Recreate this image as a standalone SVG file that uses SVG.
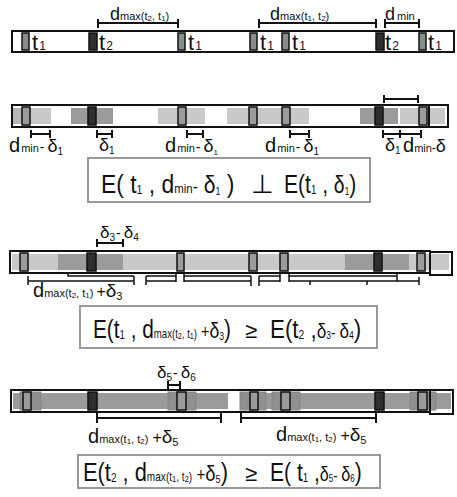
<svg xmlns="http://www.w3.org/2000/svg" width="457" height="497" viewBox="0 0 457 497">
<style>
text{font-family:"Liberation Sans",Arial,sans-serif;fill:#111}
.bar{fill:none;stroke:#111;stroke-width:2}
.mk{stroke:#111;stroke-width:1.5}
.t1{fill:#8c8c8c}
.t2{fill:#2e2e2e}
.lt{fill:#c9c9c9}
.md{fill:#9b9b9b}
.br{fill:none;stroke:#111;stroke-width:2}
.ln{fill:none;stroke:#111;stroke-width:1.5}
.fb{fill:#fff;stroke:#999;stroke-width:2}
.big{font-size:26px}
.s{font-size:12px}
</style>

<!-- Row 1 -->
<g id="row1">
<rect class="bar" x="12" y="31" width="442" height="21"/>
<rect class="mk t1" x="22" y="33" width="7" height="17"/>
<rect class="mk t2" x="89" y="33" width="8" height="17"/>
<rect class="mk t1" x="178" y="33" width="7" height="17"/>
<rect class="mk t1" x="250" y="33" width="7" height="17"/>
<rect class="mk t1" x="282" y="33" width="7" height="17"/>
<rect class="mk t2" x="376" y="33" width="8" height="17"/>
<rect class="mk t1" x="419" y="33" width="7" height="17"/>
<text x="32" y="50" font-size="22">t<tspan class="s" dx="1">1</tspan></text>
<text x="99" y="50" font-size="22">t<tspan class="s" dx="1">2</tspan></text>
<text x="188" y="50" font-size="22">t<tspan class="s" dx="1">1</tspan></text>
<text x="260" y="50" font-size="22">t<tspan class="s" dx="1">1</tspan></text>
<text x="292" y="50" font-size="22">t<tspan class="s" dx="1">1</tspan></text>
<text x="385" y="50" font-size="22">t<tspan class="s" dx="1">2</tspan></text>
<text x="428" y="50" font-size="22">t<tspan class="s" dx="1">1</tspan></text>
<path class="br" d="M98 23H178M98 19V28M178 19V28"/>
<path class="br" d="M259 23H376M259 19V28M376 19V28"/>
<path class="br" d="M385 23H419M385 19V28M419 19V28"/>
<text x="110" y="20" font-size="18">d<tspan font-size="11">max(t</tspan><tspan font-size="8" dy="1">2</tspan><tspan font-size="11" dy="-1">, t</tspan><tspan font-size="8" dy="1">1</tspan><tspan font-size="11" dy="-1">)</tspan></text>
<text x="270" y="20" font-size="18">d<tspan font-size="11">max(t</tspan><tspan font-size="8" dy="1">1</tspan><tspan font-size="11" dy="-1">, t</tspan><tspan font-size="8" dy="1">2</tspan><tspan font-size="11" dy="-1">)</tspan></text>
<text x="385" y="20" font-size="18">d<tspan font-size="11" dx="2">min</tspan></text>
</g>

<!-- Row 2 -->
<g id="row2">
<rect class="lt" x="13" y="108" width="38" height="16"/>
<rect fill="#b5b5b5" x="13" y="108" width="18" height="16"/>
<rect class="md" x="71" y="108" width="42" height="16"/>
<rect class="lt" x="158" y="108" width="47" height="16"/>
<rect class="lt" x="227" y="108" width="82" height="16"/>
<rect class="md" x="360" y="108" width="38" height="16"/>
<rect class="lt" x="400" y="108" width="45" height="16"/>
<rect class="mk md" x="22" y="107" width="8" height="18"/>
<rect class="mk t2" x="88" y="107" width="8" height="18"/>
<rect class="mk md" x="178" y="107" width="8" height="18"/>
<rect class="mk md" x="249" y="107" width="8" height="18"/>
<rect class="mk md" x="282" y="107" width="8" height="18"/>
<rect class="mk t2" x="375" y="107" width="8" height="18"/>
<rect class="mk md" x="419" y="107" width="8" height="18"/>
<rect class="bar" x="12" y="105" width="417" height="22"/>
<rect class="bar" x="429" y="105" width="19" height="22"/>
<path class="br" d="M384 99H418M384 95V103M418 95V103"/>
<path class="br" d="M31 134H50M31 130V138M50 130V138"/>
<path class="br" d="M97 134H112M97 130V138M112 130V138"/>
<path class="br" d="M187 134H203M187 130V138M203 130V138"/>
<path class="br" d="M290 134H309M290 130V138M309 130V138"/>
<path class="br" d="M383 134H400M383 130V138M400 130V138M400 134H421M421 130V138"/>
<text x="9" y="152" font-size="20">d<tspan font-size="11" dx="1">min</tspan><tspan font-size="14" dx="1">-</tspan><tspan font-size="18" dx="3">δ</tspan><tspan font-size="10" dy="3">1</tspan></text>
<text x="99" y="151" font-size="18">δ<tspan font-size="10" dy="3">1</tspan></text>
<text x="165" y="152" font-size="20">d<tspan font-size="11" dx="1">min</tspan><tspan font-size="14" dx="1">-</tspan><tspan font-size="18" dx="3">δ</tspan><tspan font-size="8" dy="3">1</tspan></text>
<text x="265" y="152" font-size="20">d<tspan font-size="11" dx="1">min</tspan><tspan font-size="14" dx="1">-</tspan><tspan font-size="18" dx="3">δ</tspan><tspan font-size="10" dy="3">1</tspan></text>
<text x="385" y="151" font-size="18">δ<tspan font-size="10" dy="3">1</tspan></text>
<text x="403" y="152" font-size="20">d<tspan font-size="11">min</tspan><tspan font-size="12">-</tspan><tspan font-size="18">δ</tspan></text>
</g>
<g id="formula1">
<rect class="fb" x="88" y="158" width="282" height="44"/>
<text transform="translate(101 193) scale(0.88 1)" class="big">E( t<tspan class="s" dy="1">1</tspan><tspan dy="-1"> , d</tspan><tspan font-size="13">min</tspan><tspan font-size="18">-</tspan><tspan font-size="24"> δ</tspan><tspan font-size="10" dy="2">1</tspan><tspan dy="-2"> )</tspan></text>
<text x="251" y="193" class="big">⊥</text>
<text transform="translate(284 193) scale(0.81 1)" class="big">E(t<tspan class="s" dy="1">1</tspan><tspan dy="-1"> , </tspan><tspan font-size="24">δ</tspan><tspan font-size="10" dy="2">1</tspan><tspan dy="-2">)</tspan></text>
</g>

<!-- Row 3 -->
<g id="row3">
<rect class="lt" x="12" y="254" width="437" height="16"/>
<rect class="md" x="58" y="254" width="65" height="16"/>
<rect class="md" x="345" y="254" width="64" height="16"/>
<rect class="mk md" x="20" y="253" width="8" height="18"/>
<rect class="mk t2" x="87" y="253" width="9" height="18"/>
<rect class="mk md" x="177" y="253" width="7" height="18"/>
<rect class="mk md" x="249" y="253" width="8" height="18"/>
<rect class="mk md" x="280" y="253" width="8" height="18"/>
<rect class="mk t2" x="374" y="253" width="8" height="18"/>
<rect class="mk md" x="417" y="253" width="8" height="18"/>
<rect class="bar" x="10" y="251" width="420" height="22"/>
<rect class="bar" x="430" y="252" width="22" height="23"/>
<path class="br" d="M97 243H123M97 239V247M123 239V247"/>
<path class="ln" d="M68 273V276H134M28 281H134M28 276V285M134 276V285"/>
<path class="ln" d="M146 276V285M146 276H176M146 281H176M176 273V282M184 273V282"/>
<path class="ln" d="M184 276H251M184 281H251M251 276V286M259 276V286M259 276H280M259 281H280M280 273V282M289 273V282"/>
<path class="ln" d="M289 276H397M289 281H419M310 281V285M367 281V285M397 273V281M419 277V285"/>
<text x="100" y="238" font-size="17">δ<tspan font-size="10" dy="3">3</tspan><tspan font-size="14" dx="1" dy="-3">-</tspan><tspan dx="3">δ</tspan><tspan font-size="10" dy="3">4</tspan></text>
<text x="33" y="297" font-size="20">d<tspan font-size="11">max(t</tspan><tspan font-size="8" dy="1">2</tspan><tspan font-size="11" dy="-1">, t</tspan><tspan font-size="8" dy="1">1</tspan><tspan font-size="11" dy="-1">)</tspan><tspan font-size="16" dx="3">+</tspan><tspan font-size="19">δ</tspan><tspan font-size="11" dy="3">3</tspan></text>
</g>
<g id="formula2">
<rect class="fb" x="80" y="306" width="297" height="42"/>
<text transform="translate(93 338) scale(0.8 1)" class="big">E(t<tspan class="s" dy="1">1</tspan><tspan dy="-1"> , d</tspan><tspan font-size="12">max(t</tspan><tspan font-size="9" dy="1">2</tspan><tspan font-size="12" dy="-1">, t</tspan><tspan font-size="9" dy="1">1</tspan><tspan font-size="12" dy="-1">)</tspan><tspan font-size="18"> +</tspan><tspan font-size="22">δ</tspan><tspan font-size="11" dy="2">3</tspan><tspan dy="-2">)</tspan></text>
<text x="245" y="338" font-size="22">≥</text>
<text transform="translate(270 338) scale(0.86 1)" class="big">E(t<tspan class="s" dy="1">2</tspan><tspan dy="-1"> ,</tspan><tspan font-size="20">δ</tspan><tspan font-size="10" dy="1">3</tspan><tspan font-size="16" dy="-1">- </tspan><tspan font-size="20">δ</tspan><tspan font-size="10" dy="1">4</tspan><tspan dy="-1">)</tspan></text>
</g>

<!-- Row 4 -->
<g id="row4">
<rect class="md" x="13" y="393" width="215" height="16"/>
<rect class="md" x="240" y="393" width="211" height="16"/>
<rect fill="#8f8f8f" stroke="#888" stroke-width="1" x="20" y="392" width="21" height="18"/>
<rect fill="#8f8f8f" stroke="#888" stroke-width="1" x="168" y="392" width="28" height="18"/>
<rect fill="#8f8f8f" stroke="#888" stroke-width="1" x="240" y="392" width="26" height="18"/>
<rect fill="#8f8f8f" stroke="#888" stroke-width="1" x="272" y="392" width="28" height="18"/>
<rect fill="#8f8f8f" stroke="#888" stroke-width="1" x="410" y="392" width="26" height="18"/>
<rect class="mk md" x="23" y="392" width="8" height="18"/>
<rect class="mk t2" x="88" y="392" width="9" height="18"/>
<rect class="mk md" x="177" y="392" width="9" height="18"/>
<rect class="mk md" x="250" y="392" width="8" height="18"/>
<rect class="mk md" x="281" y="392" width="9" height="18"/>
<rect class="mk t2" x="375" y="392" width="9" height="18"/>
<rect class="mk md" x="418" y="392" width="9" height="18"/>
<rect class="bar" x="11" y="390" width="419" height="22"/>
<rect class="bar" x="430" y="390" width="23" height="24"/>
<path class="br" d="M168 385H180M168 381V389M180 381V389"/>
<path class="br" d="M97 418H221M97 413V423M221 413V423"/>
<path class="br" d="M241 418H376M241 413V423M376 413V423"/>
<text x="157" y="378" font-size="17">δ<tspan font-size="10" dy="3">5</tspan><tspan font-size="14" dx="1" dy="-3">-</tspan><tspan dx="3">δ</tspan><tspan font-size="10" dy="3">6</tspan></text>
<text x="88" y="443" font-size="20">d<tspan font-size="11">max(t</tspan><tspan font-size="8" dy="1">1</tspan><tspan font-size="11" dy="-1">, t</tspan><tspan font-size="8" dy="1">2</tspan><tspan font-size="11" dy="-1">)</tspan><tspan font-size="16" dx="4">+</tspan><tspan font-size="19">δ</tspan><tspan font-size="11" dy="3">5</tspan></text>
<text x="276" y="441" font-size="20">d<tspan font-size="11">max(t</tspan><tspan font-size="8" dy="1">1</tspan><tspan font-size="11" dy="-1">, t</tspan><tspan font-size="8" dy="1">2</tspan><tspan font-size="11" dy="-1">)</tspan><tspan font-size="16" dx="4">+</tspan><tspan font-size="19">δ</tspan><tspan font-size="11" dy="3">5</tspan></text>
</g>
<g id="formula3">
<rect class="fb" x="78" y="455" width="302" height="33"/>
<text transform="translate(83 481) scale(0.84 1)" class="big">E(t<tspan class="s" dy="1">2</tspan><tspan dy="-1"> , d</tspan><tspan font-size="12">max(t</tspan><tspan font-size="9" dy="1">1</tspan><tspan font-size="12" dy="-1">, t</tspan><tspan font-size="9" dy="1">2</tspan><tspan font-size="12" dy="-1">)</tspan><tspan font-size="18"> +</tspan><tspan font-size="22">δ</tspan><tspan font-size="11" dy="2">5</tspan><tspan dy="-2">)</tspan></text>
<text x="245" y="481" font-size="22">≥</text>
<text transform="translate(270 481) scale(0.81 1)" class="big">E( t<tspan class="s" dy="1">1</tspan><tspan dy="-1"> ,</tspan><tspan font-size="20">δ</tspan><tspan font-size="10" dy="1">5</tspan><tspan font-size="16" dy="-1">- </tspan><tspan font-size="20">δ</tspan><tspan font-size="10" dy="1">6</tspan><tspan dy="-1">)</tspan></text>
</g>
</svg>
